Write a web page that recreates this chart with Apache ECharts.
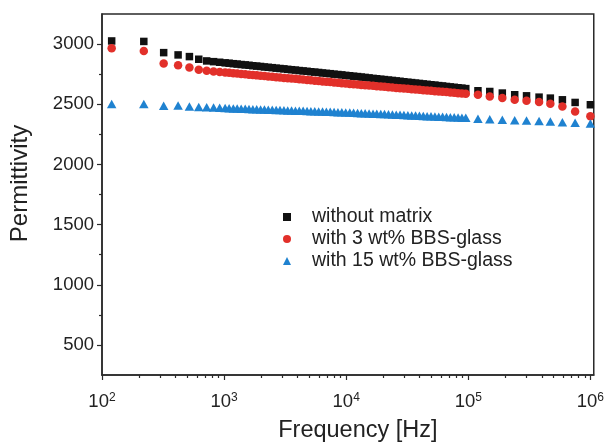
<!DOCTYPE html>
<html>
<head>
<meta charset="utf-8">
<script src="https://cdn.jsdelivr.net/npm/echarts@6/dist/echarts.min.js"></script>
<style>
  html, body { margin: 0; padding: 0; background: #fff; }
  #chart { width: 607px; height: 448px; }
</style>
</head>
<body>
<div id="chart"></div>
<script>
// Measurement frequencies [Hz]
const frequency = [
  120, 220, 320, 420, 520, 620, 720, 820, 920, 1020,
  1100, 1190, 1280, 1380, 1490, 1600, 1720, 1850, 1990, 2140,
  2300, 2480, 2670, 2870, 3090, 3320, 3570, 3840, 4130, 4440,
  4780, 5140, 5530, 5950, 6400, 6880, 7400, 7960, 8560, 9210,
  9910, 10700, 11500, 12400, 13300, 14300, 15400, 16600, 17800, 19200,
  20600, 22200, 23900, 25700, 27600, 29700, 32000, 34400, 37000, 39800,
  42800, 46000, 49500, 53300, 57300, 61600, 66300, 71300, 76700, 82500,
  88700, 95400,
  120000, 150000, 190000, 240000, 300000, 380000, 470000, 590000, 750000, 1000000
];

// Permittivity, without matrix
const withoutMatrix = [
  3026, 3022, 2929, 2910, 2896, 2874, 2860, 2854, 2849, 2844,
  2841, 2837, 2834, 2830, 2827, 2824, 2820, 2817, 2814, 2810,
  2807, 2804, 2800, 2797, 2794, 2790, 2787, 2784, 2780, 2777,
  2774, 2770, 2767, 2764, 2760, 2757, 2754, 2750, 2747, 2744,
  2740, 2737, 2733, 2730, 2726, 2723, 2719, 2715, 2712, 2708,
  2705, 2701, 2698, 2694, 2691, 2687, 2683, 2680, 2676, 2673,
  2669, 2666, 2662, 2659, 2655, 2652, 2648, 2644, 2641, 2637,
  2634, 2630,
  2612, 2606, 2593, 2579, 2570, 2559, 2551, 2537, 2515, 2496
];

// Permittivity, with 3 wt% BBS-glass
const withBbs3 = [
  2966, 2943, 2838, 2825, 2805, 2786, 2778, 2773, 2768, 2764,
  2761, 2758, 2755, 2752, 2749, 2746, 2743, 2740, 2737, 2734,
  2731, 2728, 2725, 2722, 2719, 2716, 2714, 2711, 2708, 2705,
  2702, 2699, 2696, 2693, 2690, 2687, 2684, 2681, 2678, 2675,
  2672, 2669, 2667, 2664, 2661, 2658, 2656, 2653, 2650, 2647,
  2645, 2642, 2639, 2636, 2634, 2631, 2628, 2625, 2623, 2620,
  2617, 2614, 2612, 2609, 2606, 2603, 2601, 2598, 2595, 2592,
  2590, 2587,
  2579, 2565, 2551, 2537, 2529, 2518, 2505, 2482, 2440, 2400
];

// Permittivity, with 15 wt% BBS-glass
const withBbs15 = [
  2502, 2502, 2488, 2490, 2482, 2478, 2475, 2472, 2470, 2468,
  2467, 2465, 2464, 2463, 2462, 2461, 2459, 2458, 2457, 2456,
  2455, 2454, 2453, 2452, 2450, 2449, 2448, 2447, 2446, 2445,
  2444, 2442, 2441, 2440, 2439, 2438, 2437, 2436, 2434, 2433,
  2432, 2431, 2429, 2428, 2426, 2425, 2423, 2422, 2421, 2419,
  2418, 2416, 2415, 2413, 2412, 2410, 2409, 2407, 2406, 2404,
  2403, 2401, 2400, 2399, 2397, 2396, 2394, 2393, 2391, 2390,
  2388, 2387,
  2380, 2376, 2372, 2368, 2364, 2360, 2356, 2351, 2346, 2340
];

const seriesNames = ['without matrix', 'with 3 wt% BBS-glass', 'with 15 wt% BBS-glass'];
const seriesColors = ['#111111', '#e2302a', '#1f82d0'];

// Axis ticks
const yTickValues = [500, 1000, 1500, 2000, 2500, 3000];
const yMinorTickValues = [750, 1250, 1750, 2250, 2750];
const xTickValues = [100, 1000, 10000, 100000, 1000000];
const xTickExponents = ['2', '3', '4', '5', '6'];

const xMinorTickValues = [];
for (let d = 0; d < xTickValues.length - 1; d++) {
  for (let k = 2; k <= 9; k++) xMinorTickValues.push(xTickValues[d] * k);
}

const FONT = '"Liberation Sans", Arial, Helvetica, sans-serif';
const TEXT = '#222';
const AXIS = '#2a2a2a';

const X_MIN = 100, X_MAX = 1066000;
const Y_MIN = 250, Y_MAX = 3250;

function pairs(values) {
  return frequency.map((f, i) => [f, values[i]]);
}

const chart = echarts.init(document.getElementById('chart'), null, { renderer: 'canvas' });

chart.setOption({
  animation: false,
  backgroundColor: '#fff',
  grid: {
    left: 102, right: 12, top: 14, bottom: 72,
    show: true, borderColor: AXIS, borderWidth: 1.5, backgroundColor: 'transparent'
  },
  legend: {
    orient: 'vertical',
    left: 283, top: 207,
    padding: 0,
    itemGap: 2,
    itemWidth: 8,
    itemHeight: 8,
    formatter: function (name) { return '{t|' + name + '}'; },
    textStyle: {
      fontFamily: FONT, fontSize: 19.5, color: TEXT, lineHeight: 20,
      rich: { t: { fontFamily: FONT, fontSize: 19.5, color: TEXT, lineHeight: 20, padding: [0, 0, 0, 16] } }
    },
    data: [
      { name: seriesNames[0], icon: 'rect', itemStyle: { opacity: 1 } },
      { name: seriesNames[1], icon: 'circle', itemStyle: { opacity: 1 } },
      { name: seriesNames[2], icon: 'triangle', itemStyle: { opacity: 1 } }
    ]
  },
  xAxis: [
    {
      type: 'log', logBase: 10, min: X_MIN, max: X_MAX,
      name: 'Frequency [Hz]', nameLocation: 'middle', nameGap: 44,
      nameTextStyle: { fontFamily: FONT, fontSize: 23.5, color: TEXT, padding: [0, 0, 0, 20] },
      axisLine: { show: true, lineStyle: { color: AXIS, width: 1.5 } },
      axisTick: { show: true, length: 5, customValues: xTickValues, lineStyle: { color: AXIS, width: 1.2 } },
      axisLabel: {
        show: true, margin: 17, customValues: xTickValues,
        formatter: function (v) {
          const i = xTickValues.findIndex(t => Math.abs(t - v) / t < 1e-6);
          return '{b|10}{s|' + (i >= 0 ? xTickExponents[i] : '') + '}';
        },
        rich: {
          b: { fontFamily: FONT, fontSize: 18.5, color: TEXT, lineHeight: 20 },
          s: { fontFamily: FONT, fontSize: 12, color: TEXT, verticalAlign: 'top', lineHeight: 12 }
        }
      },
      splitLine: { show: false }, minorTick: { show: false }
    },
    {
      type: 'log', logBase: 10, min: X_MIN, max: X_MAX, position: 'bottom', gridIndex: 0,
      axisLine: { show: false },
      axisTick: { show: true, length: 3, customValues: xMinorTickValues, lineStyle: { color: AXIS, width: 1.2 } },
      axisLabel: { show: false },
      splitLine: { show: false }
    }
  ],
  yAxis: [
    {
      type: 'value', min: Y_MIN, max: Y_MAX, interval: 250,
      name: 'Permittivity', nameLocation: 'middle', nameGap: 70,
      nameTextStyle: { fontFamily: FONT, fontSize: 24, color: TEXT, padding: [0, 0, 0, 22] },
      axisLine: { show: true, lineStyle: { color: AXIS, width: 1.5 } },
      axisTick: { show: true, length: 5, customValues: yTickValues, lineStyle: { color: AXIS, width: 1.2 } },
      axisLabel: {
        show: true, margin: 8, customValues: yTickValues,
        formatter: function (v) { return String(v); },
        fontFamily: FONT, fontSize: 18.5, color: TEXT
      },
      splitLine: { show: false }
    },
    {
      type: 'value', min: Y_MIN, max: Y_MAX, interval: 250, position: 'left', gridIndex: 0,
      axisLine: { show: false },
      axisTick: { show: true, length: 3, customValues: yMinorTickValues, lineStyle: { color: AXIS, width: 1.2 } },
      axisLabel: { show: false },
      splitLine: { show: false }
    }
  ],
  series: [
    {
      name: seriesNames[0], type: 'scatter', symbol: 'rect', symbolSize: 7.5,
      itemStyle: { color: seriesColors[0], opacity: 1 }, data: pairs(withoutMatrix)
    },
    {
      name: seriesNames[1], type: 'scatter', symbol: 'circle', symbolSize: 8.5,
      itemStyle: { color: seriesColors[1], opacity: 1 }, data: pairs(withBbs3)
    },
    {
      name: seriesNames[2], type: 'scatter', symbol: 'triangle', symbolSize: [9.5, 8.5],
      itemStyle: { color: seriesColors[2], opacity: 1 }, data: pairs(withBbs15)
    }
  ]
});
</script>
</body>
</html>
